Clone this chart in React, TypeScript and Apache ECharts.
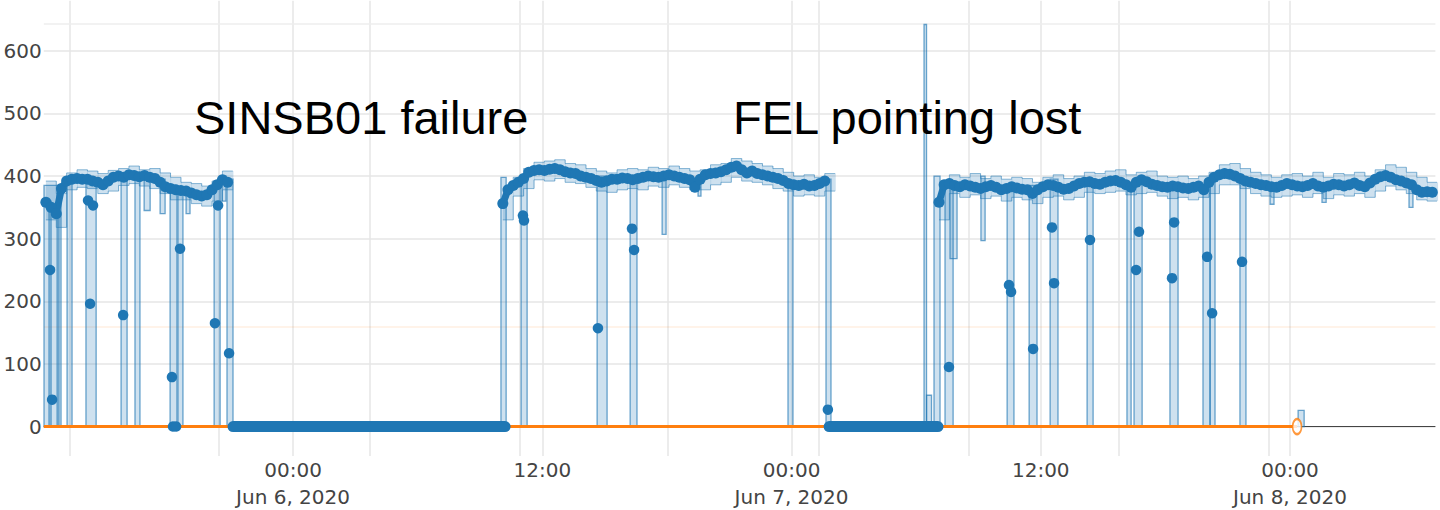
import React, { useEffect, useRef } from "react";
import * as echarts from "echarts";

// x values are hours relative to Jun 6, 2020 00:00
const X_MIN = -12;
const X_MAX = 55;
const Y_MIN = -47;
const Y_MAX = 680;

const xTickHours = [0, 12, 24, 36, 48];
const xTickLabels = ["00:00\nJun 6, 2020", "12:00", "00:00\nJun 7, 2020", "12:00", "00:00\nJun 8, 2020"];

// mean values sampled every 15 minutes in the three active periods
const meanStep = 0.25;
const meanAStart = -11.9;
const meanA = [358, 350, 340, 380, 392, 395, 396, 395, 395, 392, 390, 386, 392, 398, 400, 398, 402, 401, 399, 401, 398, 396, 390, 383, 380, 378, 377, 376, 373, 370, 368, 370, 378, 386, 394, 390];
const meanBStart = 10.1;
const meanB = [356, 378, 385, 390, 396, 406, 409, 410, 409, 411, 412, 410,
  407, 405, 404, 400, 398, 396, 393, 390, 392, 395,
  395, 397, 396, 394, 396, 398, 400, 399, 398, 400,
  402, 400, 398, 396, 394, 382, 395, 402, 404, 405,
  407, 410, 414, 416, 410, 405, 408, 404, 402, 400,
  398, 396, 393, 388, 386, 385, 387, 384, 385, 388,
  392];
const meanCStart = 31.1;
const meanC = [358, 386, 388, 385, 383, 386, 384, 382,
  380, 383, 385, 382, 378, 380, 383, 381, 379, 378,
  372, 378, 383, 386, 385, 382, 379, 380, 384, 388,
  390, 391, 388, 387, 390, 392, 393, 390, 386, 382,
  390, 394, 391, 387, 385, 383, 382, 384, 383, 381,
  380, 382, 384, 378, 390, 398, 402, 404, 403, 400,
  396, 392, 390, 388, 386, 385, 383, 382, 385, 388,
  386, 384, 383, 385, 388, 384, 382, 384, 387, 386,
  384, 386, 389, 385, 383, 389, 395, 399, 401, 398,
  394, 392, 389, 386, 378, 374, 375, 374];

// min/max envelope sampled every 30 minutes
const bandStep = 0.5;
const bandAStart = -11.9;
const hiA = [392, 372, 405, 410, 408, 404, 409, 412, 416, 410, 412, 405, 398, 390, 388, 384, 392, 408];
const loA = [330, 318, 378, 382, 380, 372, 376, 385, 388, 384, 380, 372, 362, 362, 356, 352, 360, 378];
const bandBStart = 10.1;
const hiB = [380, 398, 412, 422, 424, 426, 420, 418, 412, 408, 405, 410, 412, 410, 414, 412, 416, 412, 408, 410, 418, 420, 428, 424, 420, 416, 412, 406, 400, 402, 398, 404];
const loB = [330, 368, 380, 394, 392, 396, 390, 388, 382, 376, 374, 378, 380, 378, 384, 382, 386, 382, 378, 378, 386, 390, 398, 392, 390, 386, 380, 376, 368, 370, 368, 376];
const bandCStart = 31.1;
const hiC = [390, 402, 398, 404, 396, 400, 395, 398, 396, 390, 398, 402, 396, 400, 406, 404, 408, 410, 402, 406, 408, 400, 398, 400, 396, 400, 406, 418, 420, 412, 406, 402, 398, 402, 404, 400, 406, 398, 404, 402, 406, 400, 410, 418, 414, 406, 398, 390];
const loC = [330, 372, 366, 370, 364, 368, 360, 366, 362, 356, 366, 368, 362, 366, 374, 372, 374, 376, 370, 372, 374, 368, 364, 366, 362, 366, 372, 386, 386, 380, 372, 368, 366, 368, 370, 366, 372, 364, 370, 368, 372, 366, 376, 384, 378, 372, 362, 360];

// periods where the signal sat at zero [start, end]
const zeroRuns = [[-2.89, 10.21], [25.81, 31.05]];

// drop-outs of the envelope [start, end, low, high]
const spikes = [
  [-11.99, -11.17, 0, 385], [-11.75, -11.65, 0, 360], [-11.36, -11.27, 0, 380],
  [-10.88, -10.64, 0, 392], [-9.97, -9.48, 0, 390], [-8.28, -7.99, 0, 395],
  [-7.61, -7.37, 0, 398], [-7.17, -6.88, 345, 398], [-6.4, -6.16, 340, 395],
  [-5.92, -5.59, 0, 385], [-5.54, -5.3, 0, 380], [-5.15, -4.96, 340, 378],
  [-3.8, -3.51, 0, 392], [-3.42, -3.23, 360, 400], [-3.18, -2.89, 0, 395],
  [10.01, 10.26, 0, 398], [10.98, 11.27, 0, 395], [14.64, 15.12, 0, 400],
  [16.23, 16.56, 0, 400], [17.77, 17.96, 307, 400], [19.5, 19.64, 368, 395],
  [23.83, 24.07, 0, 392], [25.66, 25.9, 0, 395],
  [30.38, 30.5, 0, 642], [30.5, 30.74, 0, 50],
  [30.86, 31.15, 0, 400], [31.39, 31.78, 0, 385], [31.63, 31.97, 268, 385],
  [33.12, 33.32, 297, 400], [34.38, 34.71, 0, 385], [35.44, 35.82, 0, 385],
  [36.45, 36.83, 0, 395], [38.23, 38.52, 0, 392], [40.15, 40.35, 0, 390],
  [40.49, 40.88, 0, 395], [42.22, 42.61, 0, 385], [43.81, 44.15, 0, 385],
  [44.15, 44.39, 0, 395], [45.59, 45.88, 0, 390], [47.04, 47.23, 355, 385],
  [48.39, 48.68, 0, 26], [49.54, 49.74, 358, 383], [53.73, 53.92, 350, 390],
];

// isolated mean points inside drop-outs [hour, value]
const dropDots = [
  [-11.7, 250], [-11.6, 43], [-9.87, 361], [-9.63, 353], [-9.77, 196], [-8.18, 178],
  [-5.83, 79], [-5.78, 0], [-5.63, 0], [-5.44, 284], [-3.61, 353], [-3.76, 165], [-3.08, 117],
  [11.07, 337], [11.12, 329], [14.68, 157], [16.32, 316], [16.42, 282], [25.75, 27],
  [31.58, 95], [34.47, 226], [34.57, 215], [35.63, 124], [36.54, 318], [36.64, 229],
  [38.37, 298], [40.73, 311], [40.59, 250], [42.42, 326], [42.32, 237],
  [44.01, 271], [44.25, 181], [45.69, 263],
];

// second trace (orange), constant zero until its last point
const orangeStartHour = -12;
const orangeEndHour = 48.34;
const orangeValue = 0;

const extraGridHours = [-10.74, -3.56, 3.71, 10.93, 18.05, 25.33, 32.55, 39.77, 46.99];
const extraGridValues = [643];
const thresholdValue = 160;

const BLUE = "#1f77b4";

function seg(start: number, step: number, vals: number[]) {
  return vals.map((v, i) => [start + i * step, v]);
}

export default function App() {
  const ref = useRef<HTMLDivElement>(null);
  useEffect(() => {
    document.body.style.margin = "0";
    const chart = echarts.init(ref.current!, null, { renderer: "svg" });

    const meanData: any[] = [
      ...seg(meanAStart, meanStep, meanA), [0, null],
      ...seg(meanBStart, meanStep, meanB), [28, null],
      ...seg(meanCStart, meanStep, meanC),
    ];
    const bandRects: number[][] = [];
    const loData: any[] = [];
    const hiData: any[] = [];
    const bands: [number, number[], number[]][] = [[bandAStart, loA, hiA], [bandBStart, loB, hiB], [bandCStart, loC, hiC]];
    bands.forEach(([s, lo, hi]) => {
      lo.forEach((l, i) => {
        const t = s + i * bandStep;
        bandRects.push([t, t + bandStep, l, hi[i]]);
        loData.push([t, l]);
        hiData.push([t, hi[i]]);
      });
      const tEnd = s + lo.length * bandStep;
      loData.push([tEnd, lo[lo.length - 1]]);
      hiData.push([tEnd, hi[hi.length - 1]]);
      loData.push([tEnd + 0.01, null]);
      hiData.push([tEnd + 0.01, null]);
    });

    const bandLine = { color: "rgba(31,119,180,0.5)", width: 1 };
    const gridLine = { color: "#e6e6e6", width: 1.5, type: "solid" };

    chart.setOption({
      animation: false,
      grid: { left: 43.8, right: 4.6, top: 0.7, bottom: 510 - 456.9 },
      xAxis: {
        type: "value",
        min: X_MIN,
        max: X_MAX,
        interval: 12,
        axisLine: { show: false },
        axisTick: { show: false },
        splitLine: { show: true, showMinLine: false, showMaxLine: false, lineStyle: { color: "#e6e6e6", width: 1.5 } },
        axisLabel: {
          showMinLabel: false,
          showMaxLabel: false,
          margin: 0,
          fontFamily: "DejaVu Sans",
          fontSize: 20,
          lineHeight: 27,
          color: "#444",
          formatter: (v: number) => {
            const i = xTickHours.indexOf(v);
            return i >= 0 ? xTickLabels[i] : "";
          },
        },
      },
      yAxis: {
        type: "value",
        min: Y_MIN,
        max: Y_MAX,
        splitNumber: 7,
        axisLine: { show: false },
        axisTick: { show: false },
        splitLine: { show: true, showMinLine: false, showMaxLine: false, lineStyle: { color: "#e6e6e6", width: 1.5 } },
        axisLabel: {
          showMinLabel: false,
          showMaxLabel: false,
          margin: 2,
          fontFamily: "DejaVu Sans",
          fontSize: 20,
          color: "#444",
        },
      },
      graphic: [
        { type: "text", x: 194, y: 117, style: { text: "SINSB01 failure", font: '47px "Liberation Sans", Arial, sans-serif', fill: "#000", verticalAlign: "middle", align: "left" }, z: 100 },
        { type: "text", x: 733, y: 117, style: { text: "FEL pointing lost", font: '47px "Liberation Sans", Arial, sans-serif', fill: "#000", verticalAlign: "middle", align: "left" }, z: 100 },
      ],
      series: [
        {
          type: "custom",
          name: "band",
          data: bandRects,
          encode: { x: [0, 1], y: [2, 3] },
          z: 2,
          renderItem: (params: any, api: any) => {
            const p0 = api.coord([api.value(0), api.value(3)]);
            const p1 = api.coord([api.value(1), api.value(2)]);
            return {
              type: "rect",
              shape: { x: p0[0], y: p0[1], width: p1[0] - p0[0] + 0.6, height: p1[1] - p0[1] },
              style: { fill: "rgba(31,119,180,0.22)" },
            };
          },
          markLine: {
            silent: true,
            z: 1,
            symbol: "none",
            label: { show: false },
            data: [
              ...extraGridHours.map((h) => ({ xAxis: h, lineStyle: gridLine })),
              ...extraGridValues.map((v) => ({ yAxis: v, lineStyle: { ...gridLine, color: "#eeeeee" } })),
              { yAxis: thresholdValue, lineStyle: { color: "rgba(255,127,14,0.12)", width: 1.5, type: "solid" } },
              { yAxis: 0, lineStyle: { color: "#444", width: 1.2, type: "solid" } },
            ],
          },
        },
        { type: "line", name: "bandLo", step: "end", data: loData, showSymbol: false, lineStyle: bandLine, z: 2 },
        { type: "line", name: "bandHi", step: "end", data: hiData, showSymbol: false, lineStyle: bandLine, z: 2 },
        {
          type: "custom",
          name: "spikes",
          data: spikes,
          encode: { x: [0, 1], y: [2, 3] },
          z: 3,
          renderItem: (params: any, api: any) => {
            const p0 = api.coord([api.value(0), api.value(3)]);
            const p1 = api.coord([api.value(1), api.value(2)]);
            return {
              type: "rect",
              shape: { x: p0[0], y: p0[1], width: Math.max(1, p1[0] - p0[0]), height: p1[1] - p0[1] },
              style: { fill: "rgba(31,119,180,0.22)", stroke: "rgba(31,119,180,0.65)", lineWidth: 1.3 },
            };
          },
        },
        {
          type: "line",
          name: "orange",
          data: [[orangeStartHour, orangeValue], [orangeEndHour, orangeValue]],
          showSymbol: false,
          lineStyle: { color: "#ff7f0e", width: 3 },
          z: 4,
        },
        {
          type: "scatter",
          name: "orangeEnd",
          data: [[orangeEndHour, orangeValue]],
          symbol: "emptyCircle",
          symbolSize: [9, 15],
          itemStyle: { color: "#ff7f0e", borderWidth: 1.5 },
          z: 4,
        },
        {
          type: "custom",
          name: "zeroRuns",
          data: zeroRuns.map((r) => [r[0], r[1], 0]),
          encode: { x: [0, 1], y: 2 },
          z: 5,
          renderItem: (params: any, api: any) => {
            const p0 = api.coord([api.value(0), api.value(2)]);
            const p1 = api.coord([api.value(1), api.value(2)]);
            return {
              type: "line",
              shape: { x1: p0[0], y1: p0[1], x2: p1[0], y2: p1[1] },
              style: { stroke: BLUE, lineWidth: 11, lineCap: "round" },
            };
          },
        },
        {
          type: "line",
          name: "mean",
          data: meanData,
          symbol: "circle",
          symbolSize: 11,
          showSymbol: true,
          showAllSymbol: true,
          lineStyle: { color: BLUE, width: 7, join: "round", cap: "round" },
          itemStyle: { color: BLUE },
          z: 6,
        },
        {
          type: "scatter",
          name: "dropDots",
          data: dropDots,
          symbolSize: 10.5,
          itemStyle: { color: BLUE, opacity: 1 },
          z: 6,
        },
      ],
    });
    return () => chart.dispose();
  }, []);
  return <div ref={ref} style={{ width: 1440, height: 510 }} />;
}
